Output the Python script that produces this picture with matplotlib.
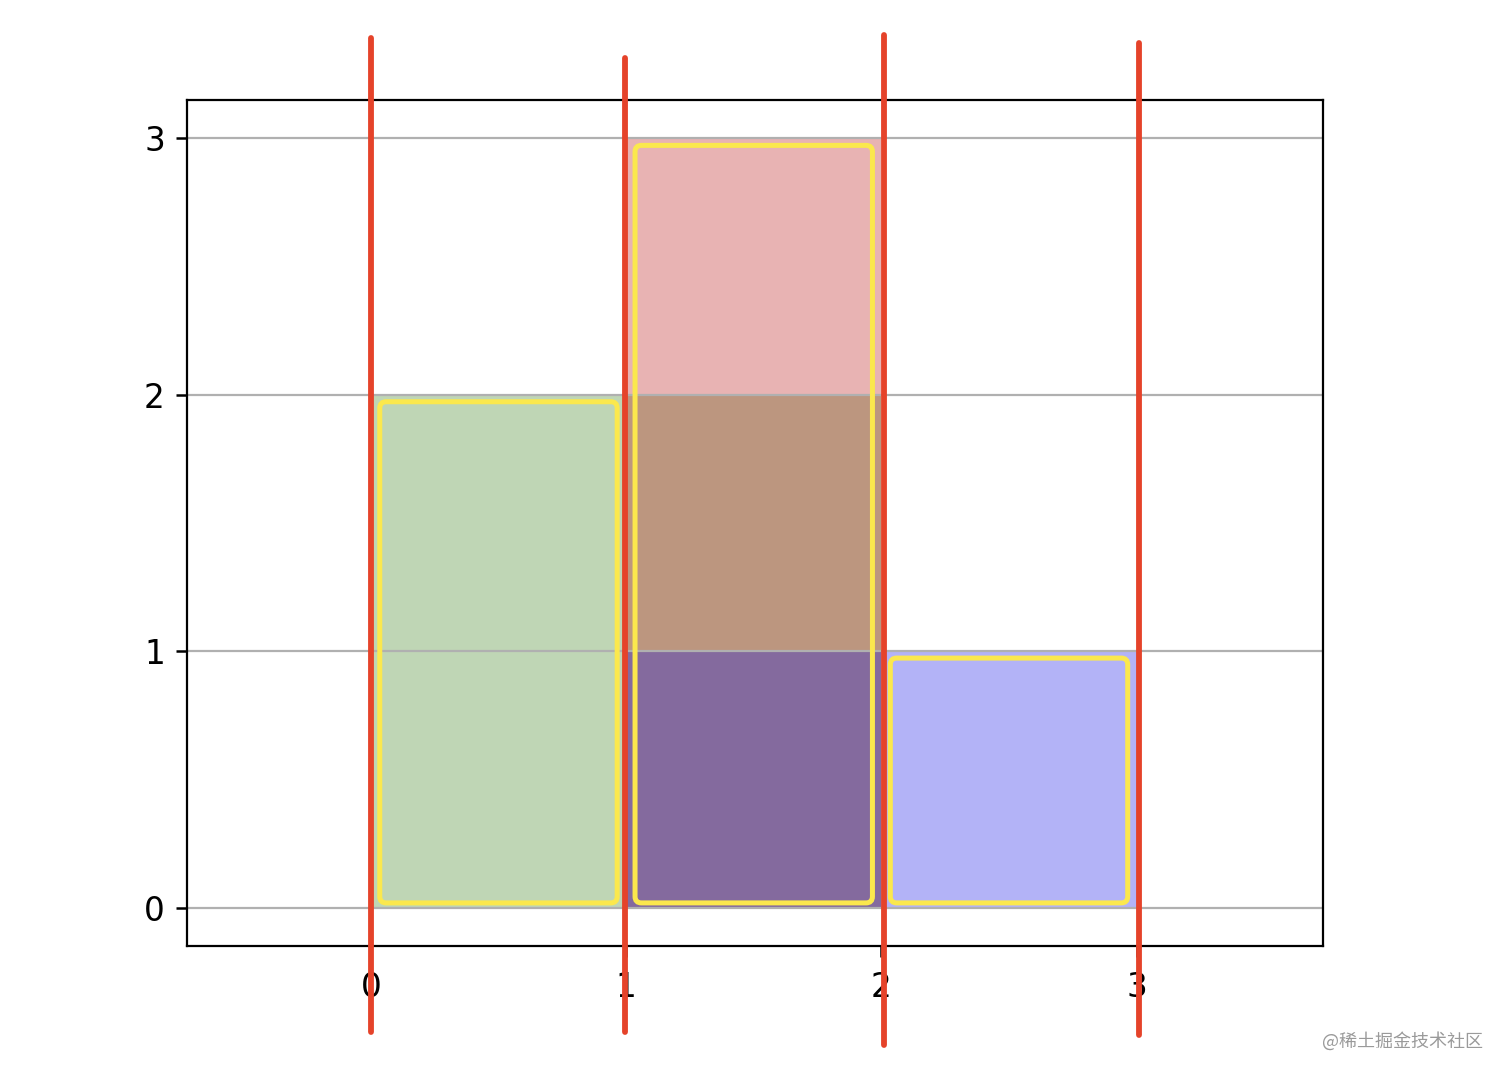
import matplotlib
matplotlib.use("Agg")
import matplotlib.pyplot as plt
import numpy as np
from matplotlib.patches import FancyBboxPatch

# bin edges and counts of the three overlapping histograms
bin_left = [0, 1, 2]
green_counts = [2, 2, 0]
red_counts = [0, 3, 0]
blue_counts = [0, 1, 1]

# hand-drawn marker lines at the bin edges (x, bottom, top in axes fraction)
marker_x = [0.0, 0.995, 2.01, 3.01]
marker_bottom = [-0.102, -0.102, -0.117, -0.105]
marker_top = [1.073, 1.050, 1.077, 1.067]

fig = plt.figure(figsize=(15.12, 10.8), dpi=100)
ax = fig.add_axes([0.1237, 0.1241, 0.7513, 0.7833])

ax.bar(bin_left, green_counts, width=1, align="edge", color="#2d7a0c", alpha=0.3, linewidth=0)
ax.bar(bin_left, red_counts, width=1, align="edge", color="#b60505", alpha=0.3, linewidth=0)
ax.bar(bin_left, blue_counts, width=1, align="edge", color="#0505e7", alpha=0.3, linewidth=0)

ax.set_xlim(-0.72, 3.73)
ax.set_ylim(-0.15, 3.15)
ax.set_xticks([0, 1, 2, 3])
ax.set_yticks([0, 1, 2, 3])
ax.yaxis.grid(True, color="#b0b0b0", linewidth=1.6)
ax.tick_params(labelsize=23.5, length=8, width=1.8)
ax.tick_params(axis="x", pad=10)
ax.tick_params(axis="y", pad=8)
for spine in ax.spines.values():
    spine.set_linewidth(1.6)

# yellow highlight boxes around each column
totals = np.maximum(np.maximum(green_counts, red_counts), blue_counts)
for left, top in zip(bin_left, totals):
    box = FancyBboxPatch(
        (left + 0.035, 0.018), 0.93, top - 0.045,
        boxstyle="round,pad=0.0,rounding_size=0.025",
        fill=False, edgecolor="#fbe84d", linewidth=3.6, zorder=4,
    )
    ax.add_patch(box)

for x, y0, y1 in zip(marker_x, marker_bottom, marker_top):
    ax.axvline(x, ymin=y0, ymax=y1, color="#e5432a", linewidth=4.2,
               solid_capstyle="round", clip_on=False, zorder=5)

fig.text(0.981, 0.036, "@稀土掘金技术社区", ha="right", va="center", fontsize=13,
         color="#9a9a9a", family=["Noto Sans CJK SC", "DejaVu Sans"])

fig.savefig("out.png", dpi=100)
